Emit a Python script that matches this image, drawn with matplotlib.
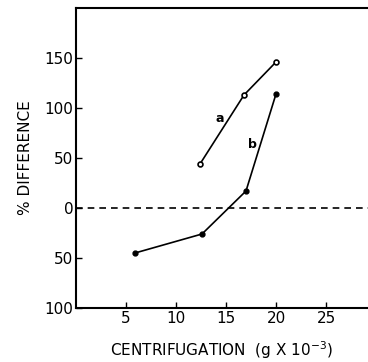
import matplotlib
matplotlib.use("Agg")
import matplotlib.pyplot as plt

# series a (open circles) and b (filled dots)
xa = [12.4, 16.8, 20.0]
ya = [44, 113, 146]
xb = [5.9, 12.6, 17.0, 20.0]
yb = [-45, -26, 17, 114]

xticks = [5, 10, 15, 20, 25]
yticks = [-100, -50, 0, 50, 100, 150]
ytick_labels = ["100", "50", "0", "50", "100", "150"]

plt.rcParams['font.family'] = ['DejaVu Sans']

fig = plt.figure(figsize=(3.68, 3.62), dpi=100)
ax = fig.add_axes([76 / 368, 1 - 308 / 362, 1 - 76 / 368, 300 / 362])

ax.plot(xa, ya, '-', color='black', lw=1.2, marker='o', ms=3.5,
        mfc='white', mec='black', mew=1.2)
ax.plot(xb, yb, '-', color='black', lw=1.2, marker='o', ms=3.5,
        mfc='black', mec='black')
ax.axhline(0, color='black', lw=1.2, ls=(0, (4, 3)))

ax.text(14.4, 90, "a", fontsize=9, fontweight='bold', ha='center', va='center')
ax.text(17.6, 64, "b", fontsize=9, fontweight='bold', ha='center', va='center')

ax.set_xlim(0, 29.2)
ax.set_ylim(-100, 200)
ax.set_xticks(xticks)
ax.set_xticklabels([str(t) for t in xticks])
ax.set_yticks(yticks)
ax.set_yticklabels(ytick_labels)
ax.tick_params(direction='in', length=4, width=1, labelsize=11, pad=2)
ax.spines['right'].set_visible(False)
for s in ['left', 'bottom', 'top']:
    ax.spines[s].set_linewidth(1.5)

ax.set_ylabel("% DIFFERENCE", fontsize=11, labelpad=8)
ax.set_xlabel(r"CENTRIFUGATION  (g X 10$^{-3}$)", fontsize=11, labelpad=10)

fig.savefig("out.png", dpi=100)
